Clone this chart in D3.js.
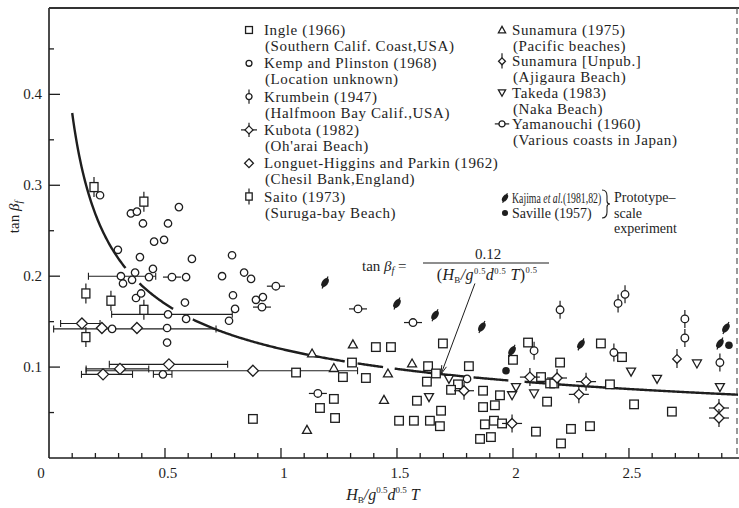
<!DOCTYPE html>
<html>
<head>
<meta charset="utf-8">
<script src="https://cdn.jsdelivr.net/npm/d3@7"></script>
<style>
  body { margin: 0; background: #fff; }
  svg { display: block; font-family: "Liberation Serif", "DejaVu Serif", serif; }
</style>
</head>
<body>
<svg id="chart" width="739" height="508"></svg>
<script>
// ---- data: [H_B/g^0.5 d^0.5 T, tan beta_f] ----
var ingle = [[1.065,0.094],[0.879,0.043],[1.267,0.089],[1.306,0.105],[1.168,0.055],[1.228,0.065],
  [1.233,0.044],[1.366,0.088],[1.409,0.122],[1.474,0.122],[1.698,0.126],[1.634,0.101],[1.668,0.093],
  [1.629,0.084],[1.586,0.063],[1.690,0.052],[1.509,0.041],[1.573,0.041],[1.642,0.041],[1.685,0.035],
  [1.810,0.101],[1.763,0.081],[1.733,0.075],[1.871,0.074],[1.871,0.056],[1.922,0.058],[1.944,0.069],
  [1.879,0.037],[1.918,0.041],[1.953,0.038],[1.858,0.021],[1.905,0.023],[2.000,0.108],[2.065,0.127],
  [2.121,0.089],[2.147,0.062],[2.160,0.082],[2.178,0.082],[2.203,0.105],[2.099,0.029],[2.207,0.016],
  [2.250,0.032],[2.332,0.035],[2.379,0.126],[2.470,0.111],[2.418,0.081],[2.522,0.059],[2.685,0.051]];
var kemp = [[0.220,0.289],[0.353,0.269],[0.379,0.271],[0.405,0.258],[0.513,0.258],[0.560,0.276],
  [0.453,0.238],[0.496,0.240],[0.297,0.229],[0.392,0.221],[0.616,0.219],[0.789,0.223],[0.448,0.208],
  [0.310,0.200],[0.371,0.204],[0.358,0.196],[0.319,0.192],[0.431,0.199],[0.591,0.199],[0.746,0.200],
  [0.841,0.204],[0.871,0.197],[0.793,0.179],[0.375,0.176],[0.397,0.181],[0.586,0.171],[0.892,0.174],
  [0.922,0.177],[0.802,0.164],[0.776,0.151],[0.513,0.158],[0.591,0.153],[0.272,0.142],[0.509,0.143],
  [0.509,0.127],[0.491,0.092],[1.802,0.087]];
var krumbein = [[2.091,0.118],[2.203,0.163],[2.453,0.170],[2.483,0.180],[2.435,0.116],[2.741,0.153],
  [2.741,0.132],[2.892,0.105]];
var kubota = [[1.789,0.074],[1.996,0.038],[2.073,0.089],[2.190,0.088],[2.315,0.084],[2.284,0.070],
  [2.888,0.055],[2.888,0.044]];
var longuet = [[0.142,0.148],[0.228,0.143],[0.379,0.143],[0.233,0.092],[0.306,0.098],[0.517,0.103],
  [0.879,0.096]];
var saito = [[0.194,0.298],[0.409,0.282],[0.159,0.181],[0.267,0.173],[0.409,0.163],[0.159,0.133]];
var sunamura = [[1.134,0.115],[1.310,0.125],[1.228,0.099],[1.112,0.031],[1.565,0.104],[1.461,0.093],
  [1.444,0.064]];
var sunamuraUnpub = [[2.707,0.109]];
var takeda = [[1.724,0.087],[1.638,0.067],[2.013,0.078],[1.996,0.069],[2.091,0.071],[2.509,0.095],
  [2.621,0.087],[2.793,0.104],[2.892,0.078]];
var yamanouchi = [[0.530,0.199],[0.978,0.189],[0.918,0.166],[1.159,0.071],[1.332,0.164],[1.569,0.149]];
var kajima = [[1.190,0.193],[1.500,0.170],[1.664,0.157],[1.866,0.144],[1.996,0.118],[2.293,0.125],
  [2.918,0.143],[2.892,0.126]];
var saville = [[1.970,0.096],[2.931,0.124]];

// horizontal ranges: [y, xLow, xHigh]
var rangeBars = [[0.148,0.05,0.22],[0.142,0.02,0.72],[0.200,0.17,0.46],[0.158,0.27,0.79],
  [0.092,0.14,0.36],[0.098,0.16,0.43],[0.103,0.26,0.77],[0.096,0.16,1.33],[0.092,0.45,0.53]];

// fitted curve tan beta_f = coef / x^0.5, with the drafting breaks
var curveCoef = 0.12;
var curveStart = 0.1;
var curveGaps = [[0.33,0.39],[0.535,0.62],[1.275,1.33],[1.44,1.49],[1.80,1.83],[1.98,2.05]];

var xTicks = [0, 0.5, 1, 1.5, 2, 2.5];
var xTickLabels = ["0", "0.5", "1", "1.5", "2", "2.5"];
var yTicks = [0.1, 0.2, 0.3, 0.4];
var yTickLabels = ["0.1", "0.2", "0.3", "0.4"];

var legendLeft = [
  ["square", "Ingle (1966)", "(Southern Calif. Coast,USA)"],
  ["circle", "Kemp and Plinston (1968)", "(Location unknown)"],
  ["circleV", "Krumbein (1947)", "(Halfmoon Bay Calif.,USA)"],
  ["diamondX", "Kubota (1982)", "(Oh'arai Beach)"],
  ["diamond", "Longuet-Higgins and Parkin (1962)", "(Chesil Bank,England)"],
  ["squareV", "Saito (1973)", "(Suruga-bay Beach)"]];
var legendRight = [
  ["triUp", "Sunamura (1975)", "(Pacific beaches)"],
  ["diamondV", "Sunamura [Unpub.]", "(Ajigaura Beach)"],
  ["triDown", "Takeda (1983)", "(Naka Beach)"],
  ["circleH", "Yamanouchi (1960)", "(Various coasts in Japan)"]];
var prototypeLines = ["Prototype\u2013", "scale", "experiment"];

// arrow of the formula annotation, in data units
var arrowFrom = [1.836, 0.192];
var arrowTo = [1.69, 0.0923];

// ---- drawing ----
var INK = "#1e1e1e";
var svg = d3.select("#chart");
var W = 739, H = 508;
var x = d3.scaleLinear().domain([0, 2.97]).range([49, 738]);
var y = d3.scaleLinear().domain([0, 0.495]).range([458, 8]);

function drawMarker(g, type, k) {
  k = k || 1;
  function ln(x1, y1, x2, y2) {
    g.append("line").attr("x1", x1 * k).attr("y1", y1 * k).attr("x2", x2 * k).attr("y2", y2 * k)
      .attr("stroke", INK).attr("stroke-width", 1.2);
  }
  function shape(el) {
    return el.attr("fill", "#fff").attr("stroke", INK).attr("stroke-width", 1.3);
  }
  function dia(r) {
    return shape(g.append("path").attr("d", "M0," + (-r * k) + "L" + (r * k) + ",0L0," + (r * k) + "L" + (-r * k) + ",0Z"));
  }
  switch (type) {
    case "square":
      shape(g.append("rect").attr("x", -4.3 * k).attr("y", -4.3 * k).attr("width", 8.6 * k).attr("height", 8.6 * k)); break;
    case "squareV":
      ln(0, -10, 0, 10);
      shape(g.append("rect").attr("x", -4 * k).attr("y", -4.5 * k).attr("width", 8 * k).attr("height", 9 * k)); break;
    case "circle":
      shape(g.append("circle").attr("r", 3.7 * k)); break;
    case "circleV":
      ln(0, -9, 0, 9); shape(g.append("circle").attr("r", 3.8 * k)); break;
    case "circleH":
      ln(-9, 0, 9, 0); shape(g.append("circle").attr("r", 3.8 * k)); break;
    case "diamond":
      dia(5.5); break;
    case "diamondX":
      ln(-10, 0, 10, 0); ln(0, -9, 0, 9); dia(5); break;
    case "diamondV":
      ln(0, -10, 0, 9); dia(4.3); break;
    case "triUp":
      shape(g.append("path").attr("d", "M0," + (-4.5 * k) + "L" + (4.5 * k) + "," + (3.5 * k) + "L" + (-4.5 * k) + "," + (3.5 * k) + "Z")); break;
    case "triDown":
      shape(g.append("path").attr("d", "M0," + (4.5 * k) + "L" + (4.5 * k) + "," + (-3.5 * k) + "L" + (-4.5 * k) + "," + (-3.5 * k) + "Z")); break;
    case "kajima":
      ln(-3, 6, 3, -6);
      g.append("ellipse").attr("rx", 3 * k).attr("ry", 5.2 * k).attr("transform", "rotate(35)").attr("fill", INK); break;
    case "filled":
      g.append("circle").attr("r", 3.8 * k).attr("fill", INK); break;
  }
}

// frame
svg.append("line").attr("x1", x(0)).attr("x2", x(0)).attr("y1", y(0)).attr("y2", y(0.495))
  .attr("stroke", INK).attr("stroke-width", 1.6);
svg.append("line").attr("x1", x(0)).attr("x2", W).attr("y1", y(0)).attr("y2", y(0))
  .attr("stroke", INK).attr("stroke-width", 1.6);
svg.append("line").attr("x1", x(0)).attr("x2", W).attr("y1", y(0.495)).attr("y2", y(0.495))
  .attr("stroke", "#333").attr("stroke-width", 2);
svg.append("line").attr("x1", 737).attr("x2", 737).attr("y1", y(0.495)).attr("y2", y(0))
  .attr("stroke", "#555").attr("stroke-width", 1.2).attr("stroke-dasharray", "6,4");

// ticks (inward)
var xMinor = d3.range(1, 30).map(function (i) { return i / 10; });
svg.selectAll(".xt").data(xMinor).enter().append("line")
  .attr("x1", function (d) { return x(d); }).attr("x2", function (d) { return x(d); })
  .attr("y1", y(0)).attr("y2", function (d, i) { return y(0) - ((i + 1) % 5 === 0 ? 10 : 5); })
  .attr("stroke", INK).attr("stroke-width", 1.3);
var yMinor = d3.range(1, 10).map(function (i) { return i / 20; });
svg.selectAll(".yt").data(yMinor).enter().append("line")
  .attr("x1", x(0)).attr("x2", function (d, i) { return x(0) + ((i + 1) % 2 === 0 ? 11 : 5); })
  .attr("y1", function (d) { return y(d); }).attr("y2", function (d) { return y(d); })
  .attr("stroke", INK).attr("stroke-width", 1.3);

svg.selectAll(".xl").data(xTicks).enter().append("text")
  .attr("x", function (d, i) { return i === 0 ? x(d) - 8 : x(d) + 3; })
  .attr("y", 478).attr("text-anchor", "middle").attr("font-size", 15).attr("fill", INK)
  .text(function (d, i) { return xTickLabels[i]; });
svg.selectAll(".yl").data(yTicks).enter().append("text")
  .attr("x", 42).attr("y", function (d) { return y(d) + 5; })
  .attr("text-anchor", "end").attr("font-size", 15).attr("fill", INK)
  .text(function (d, i) { return yTickLabels[i]; });

// axis titles
var yt = svg.append("text").attr("transform", "translate(19,217) rotate(-90)")
  .attr("text-anchor", "middle").attr("font-size", 15).attr("fill", INK);
yt.append("tspan").text("tan ");
yt.append("tspan").attr("font-style", "italic").text("\u03b2");
yt.append("tspan").attr("font-style", "italic").attr("font-size", 10).attr("dy", 3).text("f");

var xt = svg.append("text").attr("x", 383).attr("y", 500).attr("text-anchor", "middle")
  .attr("font-size", 16).attr("font-style", "italic").attr("fill", INK);
xt.append("tspan").text("H");
xt.append("tspan").attr("font-size", 9).attr("font-style", "normal").attr("dy", 3).text("B");
xt.append("tspan").attr("dy", -3).text("/g");
xt.append("tspan").attr("font-size", 9).attr("font-style", "normal").attr("dy", -7).text("0.5");
xt.append("tspan").attr("dy", 7).text("d");
xt.append("tspan").attr("font-size", 9).attr("font-style", "normal").attr("dy", -7).text("0.5");
xt.append("tspan").attr("dy", 7).text(" T");

// plot clip
svg.append("clipPath").attr("id", "plotclip").append("rect")
  .attr("x", x(0)).attr("y", y(0.495)).attr("width", W - x(0)).attr("height", y(0) - y(0.495));
var plot = svg.append("g").attr("clip-path", "url(#plotclip)");

// range bars
rangeBars.forEach(function (b) {
  var yy = y(b[0]);
  plot.append("line").attr("x1", x(b[1])).attr("x2", x(b[2])).attr("y1", yy).attr("y2", yy)
    .attr("stroke", INK).attr("stroke-width", 1.1);
  [b[1], b[2]].forEach(function (v) {
    plot.append("line").attr("x1", x(v)).attr("x2", x(v)).attr("y1", yy - 3.5).attr("y2", yy + 3.5)
      .attr("stroke", INK).attr("stroke-width", 1.1);
  });
});

// fitted curve, split at the gaps
var edges = [curveStart];
curveGaps.forEach(function (g) { edges.push(g[0], g[1]); });
edges.push(2.97);
var curveLine = d3.line().x(function (d) { return x(d); }).y(function (d) { return y(curveCoef / Math.sqrt(d)); });
for (var s = 0; s < edges.length; s += 2) {
  var pts = d3.range(edges[s], edges[s + 1], 0.005).concat([edges[s + 1]]);
  plot.append("path").attr("d", curveLine(pts)).attr("fill", "none")
    .attr("stroke", INK).attr("stroke-width", 2.4);
}

// markers
var seriesList = [
  ["square", ingle], ["circle", kemp], ["diamond", longuet], ["squareV", saito],
  ["triUp", sunamura], ["triDown", takeda], ["circleV", krumbein], ["diamondX", kubota],
  ["diamondV", sunamuraUnpub], ["circleH", yamanouchi], ["kajima", kajima], ["filled", saville]];
seriesList.forEach(function (sr) {
  sr[1].forEach(function (p) {
    var g = plot.append("g").attr("transform", "translate(" + x(p[0]) + "," + y(p[1]) + ")");
    drawMarker(g, sr[0], 1);
  });
});

// formula annotation
svg.append("line").attr("x1", x(arrowFrom[0])).attr("y1", y(arrowFrom[1]))
  .attr("x2", x(arrowTo[0])).attr("y2", y(arrowTo[1])).attr("stroke", INK).attr("stroke-width", 1);
(function () {
  var ax = x(arrowTo[0]), ay = y(arrowTo[1]);
  var ang = Math.atan2(y(arrowFrom[1]) - ay, x(arrowFrom[0]) - ax);
  var L = 9, spread = 0.28;
  svg.append("path").attr("d", "M" + (ax + L * Math.cos(ang - spread)) + "," + (ay + L * Math.sin(ang - spread)) +
    "L" + ax + "," + ay + "L" + (ax + L * Math.cos(ang + spread)) + "," + (ay + L * Math.sin(ang + spread)))
    .attr("fill", "none").attr("stroke", INK).attr("stroke-width", 1);
})();
var fx0 = 423, fx1 = 549, fy = 263;
var ft = svg.append("text").attr("x", 362).attr("y", fy + 8).attr("font-size", 15).attr("fill", INK);
ft.append("tspan").text("tan ");
ft.append("tspan").attr("font-style", "italic").text("\u03b2");
ft.append("tspan").attr("font-style", "italic").attr("font-size", 10).attr("dy", 3).text("f");
ft.append("tspan").attr("dy", -3).text(" =");
svg.append("line").attr("x1", fx0).attr("x2", fx1).attr("y1", fy).attr("y2", fy).attr("stroke", INK).attr("stroke-width", 1.1);
svg.append("text").attr("x", (fx0 + fx1) / 2 + 2).attr("y", fy - 4).attr("text-anchor", "middle")
  .attr("font-size", 15).attr("fill", INK).text("0.12");
var den = svg.append("text").attr("x", (fx0 + fx1) / 2 + 1).attr("y", fy + 17).attr("text-anchor", "middle")
  .attr("font-size", 16).attr("fill", INK).attr("letter-spacing", 0.4);
den.append("tspan").text("(");
den.append("tspan").attr("font-style", "italic").text("H");
den.append("tspan").attr("font-size", 9).attr("dy", 3).text("B");
den.append("tspan").attr("font-style", "italic").attr("dy", -3).text("/g");
den.append("tspan").attr("font-size", 8.5).attr("dy", -6).text("0.5");
den.append("tspan").attr("font-style", "italic").attr("dy", 6).text("d");
den.append("tspan").attr("font-size", 8.5).attr("dy", -6).text("0.5");
den.append("tspan").attr("font-style", "italic").attr("dy", 6).text(" T");
den.append("tspan").text(")");
den.append("tspan").attr("font-size", 8.5).attr("dy", -7).text("0.5");

// legend
function legendColumn(items, sx, tx, y0, step) {
  items.forEach(function (it, i) {
    var yy = y0 + i * step;
    var g = svg.append("g").attr("transform", "translate(" + sx + "," + yy + ")");
    drawMarker(g, it[0], 0.8);
    svg.append("text").attr("x", tx).attr("y", yy + 5).attr("font-size", 15).attr("letter-spacing", 0.6)
      .attr("fill", INK).text(it[1]);
    svg.append("text").attr("x", tx + 1).attr("y", yy + 21).attr("font-size", 15).attr("letter-spacing", 0.6)
      .attr("fill", INK).text(it[2]);
  });
}
legendColumn(legendLeft, 249, 264, 30, 33.3);
legendColumn(legendRight, 502, 512, 30, 31.3);

var kg = svg.append("g").attr("transform", "translate(505,198)");
drawMarker(kg, "kajima", 0.8);
// condensed horizontally, as in the printed legend
var kt = svg.append("text").attr("transform", "translate(512,203) scale(0.7,1)")
  .attr("font-size", 14).attr("fill", INK);
kt.append("tspan").text("Kajima ");
kt.append("tspan").attr("font-style", "italic").text("et al.");
kt.append("tspan").text("(1981,82)");
var sg = svg.append("g").attr("transform", "translate(505,213)");
drawMarker(sg, "filled", 0.8);
svg.append("text").attr("x", 512).attr("y", 218).attr("font-size", 14).attr("fill", INK).text("Saville (1957)");
svg.append("path").attr("d", "M602,190 Q607,190 607,196 L607,201 Q607,204 610,204 Q607,204 607,207 L607,212 Q607,218 602,218")
  .attr("fill", "none").attr("stroke", INK).attr("stroke-width", 1.1);
prototypeLines.forEach(function (t, i) {
  svg.append("text").attr("x", 614).attr("y", 202 + i * 15.5).attr("font-size", 14).attr("fill", INK).text(t);
});
</script>
</body>
</html>
